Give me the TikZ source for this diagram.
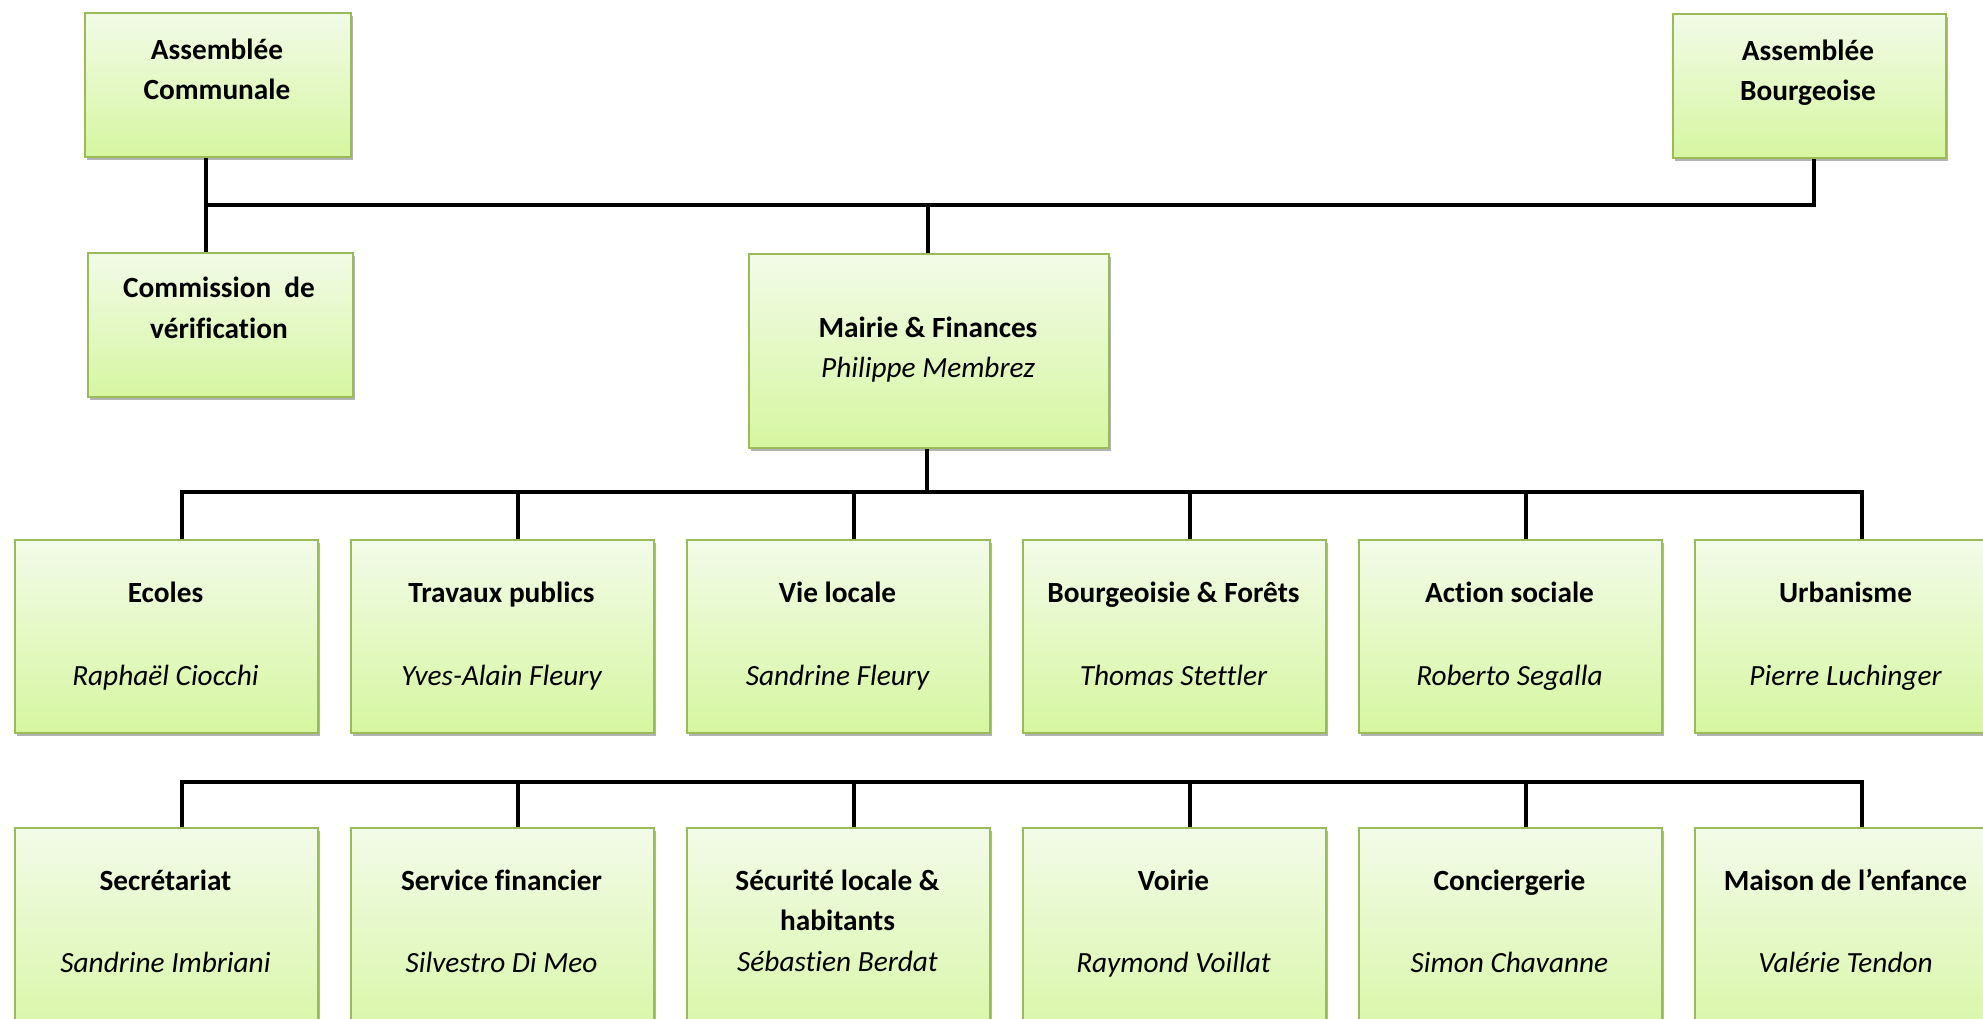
\documentclass[tikz,border=0pt]{standalone}
\usepackage{fontspec}
\setmainfont[Ligatures={NoCommon,NoRequired,NoContextual},RawFeature={-liga;-dlig;-clig;-calt}]{Carlito}
\usetikzlibrary{shadows}
\definecolor{boxborder}{RGB}{155,187,89}
\definecolor{boxtop}{RGB}{242,251,232}
\definecolor{boxbot}{RGB}{214,246,160}
\begin{document}
\begin{tikzpicture}[x=1pt,y=-1pt,
  orgbox/.style={rectangle, draw=boxborder, line width=2pt, top color=boxtop, bottom color=boxbot,
    inner sep=0pt, anchor=north west,
    drop shadow={shadow xshift=2pt, shadow yshift=-3pt, opacity=0.3, fill=black}},
  ttl/.style={font=\fontsize{29.3}{40}\selectfont\bfseries, anchor=base, inner sep=0pt},
  nm/.style={font=\fontsize{29.3}{40}\selectfont\itshape, anchor=base, inner sep=0pt},
  conn/.style={line width=4.5pt, draw=black, line join=miter}]
\path[use as bounding box] (0,0) rectangle (1983,1018);
\clip (0,0) rectangle (1983,1018);

% top boxes
\node[orgbox, minimum width=266pt, minimum height=144pt] (ac) at (84,12) {};
\node[orgbox, minimum width=273pt, minimum height=144pt] (ab) at (1672,13) {};
\node[orgbox, minimum width=265pt, minimum height=144pt] (cv) at (87,252) {};
\node[orgbox, minimum width=360pt, minimum height=194pt] (mf) at (748,253) {};

% row boxes
\foreach \i in {0,...,5} {
  \node[orgbox, minimum width=303pt, minimum height=193pt] (ra\i) at ({14+336*\i},539) {};
  \node[orgbox, minimum width=303pt, minimum height=230pt] (rb\i) at ({14+336*\i},827) {};
  \coordinate (raj\i) at ({182+336*\i},492);
  \coordinate (rbj\i) at ({182+336*\i},782);
}

% connectors
\coordinate (jl) at (206,205);
\coordinate (jr) at (1814,205);
\coordinate (jm) at (928,205);
\coordinate (mb) at (927,492);
\draw[conn] (ac.south -| jl) -- (cv.north -| jl);
\draw[conn] (jl) -- (jr) -- (ab.south -| jr);
\draw[conn] (jm) -- (mf.north -| jm);
\draw[conn] (mf.south -| mb) -- (mb);
\draw[conn] (ra0.north -| raj0) -- (raj0) -- (raj5) -- (ra5.north -| raj5);
\draw[conn] (rb0.north -| rbj0) -- (rbj0) -- (rbj5) -- (rb5.north -| rbj5);
\foreach \i in {1,...,4} {
  \draw[conn] (raj\i) -- (ra\i.north -| raj\i);
  \draw[conn] (rbj\i) -- (rb\i.north -| rbj\i);
}

% texts
\node[ttl] (acT1) at (217,59) {Assemblée};
\node[ttl] (acT2) at (217,99) {Communale};
\node[ttl] (abT1) at (1808,60) {Assemblée};
\node[ttl] (abT2) at (1808,100) {Bourgeoise};
\node[ttl] (cvT1) at (219,297) {Commission\hspace{13pt}de};
\node[ttl] (cvT2) at (219,338) {vérification};
\node[ttl] (mfT) at (928,337) {Mairie \& Finances};
\node[nm] (mfN) at (928,377) {Philippe Membrez};

\foreach \i/\t/\n in {0/Ecoles/Raphaël Ciocchi, 1/Travaux publics/Yves-Alain Fleury,
    2/Vie locale/Sandrine Fleury, 3/Bourgeoisie \& Forêts/Thomas Stettler,
    4/Action sociale/Roberto Segalla, 5/Urbanisme/Pierre Luchinger} {
  \node[ttl] (raT\i) at ({165.5+336*\i},602) {\t};
  \node[nm] (raN\i) at ({165.5+336*\i},685) {\n};
}
\foreach \i/\t/\n in {0/Secrétariat/Sandrine Imbriani, 1/Service financier/Silvestro Di Meo,
    3/Voirie/Raymond Voillat, 4/Conciergerie/Simon Chavanne,
    5/Maison de l’enfance/Valérie Tendon} {
  \node[ttl] (rbT\i) at ({165.5+336*\i},890) {\t};
  \node[nm] (rbN\i) at ({165.5+336*\i},972) {\n};
}
\node[ttl] (rbT2a) at (837.5,890) {Sécurité locale \&};
\node[ttl] (rbT2b) at (837.5,930) {habitants};
\node[nm] (rbN2) at (837.5,971) {Sébastien Berdat};
\end{tikzpicture}
\end{document}
